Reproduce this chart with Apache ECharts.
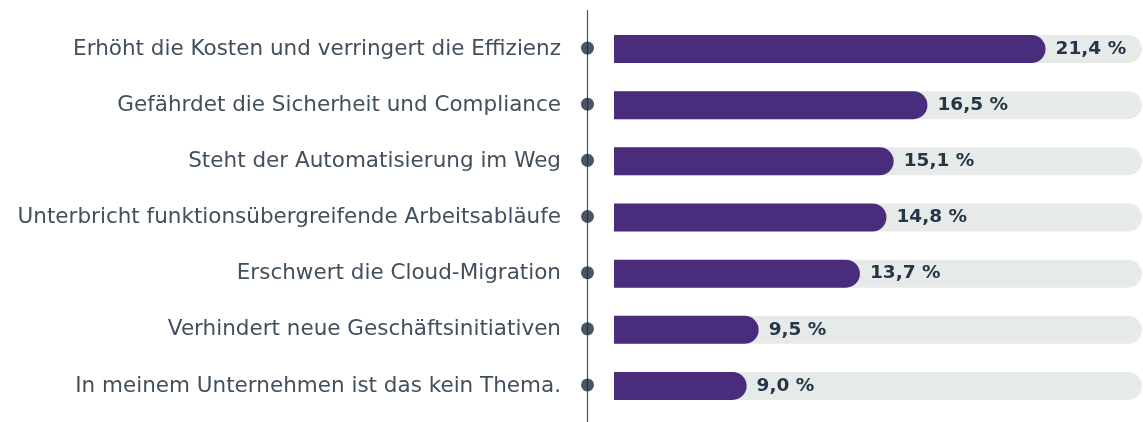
<!DOCTYPE html>
<html>
<head>
<meta charset="utf-8">
<script src="https://cdn.jsdelivr.net/npm/echarts@6/dist/echarts.min.js"></script>
<style>
  html, body { margin: 0; padding: 0; background: #fff; }
  #chart { width: 1143px; height: 422px; }
</style>
</head>
<body>
<div id="chart"></div>
<script>
// Kategorien von oben nach unten
const categories = [
  'Erhöht die Kosten und verringert die Effizienz',
  'Gefährdet die Sicherheit und Compliance',
  'Steht der Automatisierung im Weg',
  'Unterbricht funktionsübergreifende Arbeitsabläufe',
  'Erschwert die Cloud-Migration',
  'Verhindert neue Geschäftsinitiativen',
  'In meinem Unternehmen ist das kein Thema.'
]
const values = [21.4, 16.5, 15.1, 14.8, 13.7, 9.5, 9.0]

const axisMin = 3.5
const axisMax = 25.4

let myChart = echarts.init(document.getElementById('chart'))

let option = {
  animation: false,
  grid: {
    left: 614,
    right: 1,
    top: 21,
    bottom: 8
  },
  graphic: [{
    type: 'line',
    shape: { x1: 587.5, y1: 10, x2: 587.5, y2: 422 },
    style: { stroke: '#4a5056', lineWidth: 1.2 },
    z: 0
  }],
  xAxis: {
    type: 'value',
    min: axisMin,
    max: axisMax,
    show: false
  },
  yAxis: {
    type: 'category',
    inverse: true,
    data: categories,
    offset: 27,
    axisLine: { show: false },
    axisTick: { show: false },
    axisLabel: {
      margin: 26,
      color: '#424f5c',
      fontSize: 21.5,
      fontFamily: 'DejaVu Sans',
      fontWeight: 'normal'
    }
  },
  series: [{
    type: 'bar',
    data: values,
    barWidth: 28,
    showBackground: true,
    backgroundStyle: {
      color: '#e6ebe9',
      borderRadius: [0, 14, 14, 0]
    },
    itemStyle: {
      color: '#4a2c7d',
      borderRadius: [0, 14, 14, 0]
    },
    label: {
      show: true,
      position: 'right',
      distance: 10,
      color: '#253746',
      fontSize: 18.5,
      fontWeight: 'bold',
      fontFamily: 'DejaVu Sans',
      formatter: function (p) {
        return p.value.toFixed(1).replace('.', ',') + ' %'
      }
    },
    z: 2
  }, {
    // Punkte auf der Achse
    type: 'scatter',
    data: categories.map(function (c) { return [axisMin, c] }),
    symbol: 'circle',
    symbolSize: 13,
    symbolOffset: [-26.5, -1],
    itemStyle: { color: '#1c2c3c' },
    silent: true,
    z: 5
  }]
}
myChart.setOption(option)
</script>
</body>
</html>
